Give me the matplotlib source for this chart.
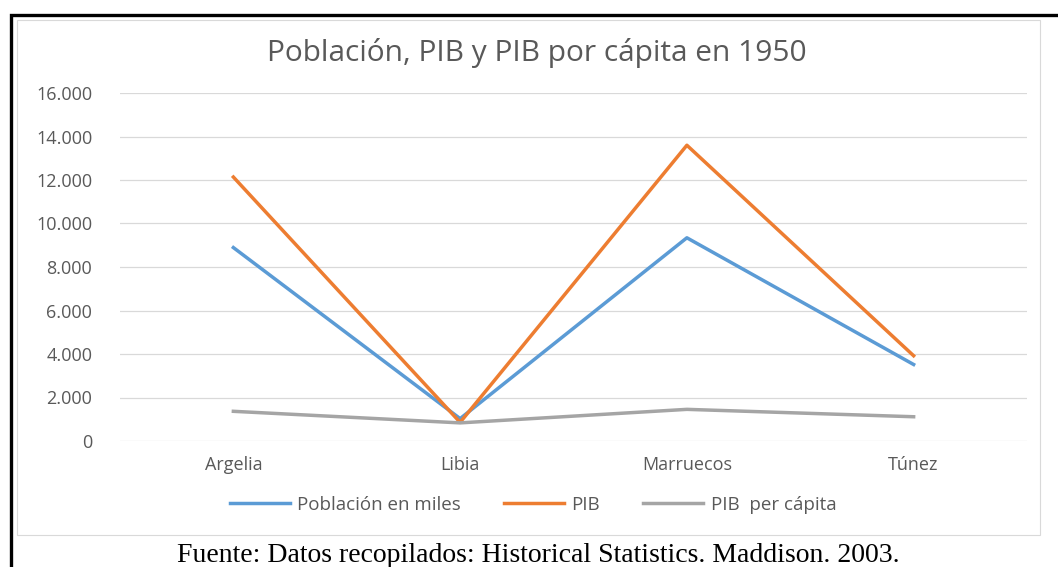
import matplotlib.pyplot as plt
from matplotlib.patches import Rectangle
from matplotlib.ticker import FuncFormatter

paises = ["Argelia", "Libia", "Marruecos", "Túnez"]
poblacion = [8893, 1029, 9343, 3517]
pib = [12136, 857, 13598, 3920]
pib_per_capita = [1365, 833, 1455, 1115]

fig = plt.figure(figsize=(10.58, 5.67), dpi=100)
W, H = 1058, 567

# black frame + faint inner border
fig.patches.append(Rectangle((11 / W, -0.05), 1.1, 1 - 14.5 / H + 0.05, transform=fig.transFigure,
                             fill=False, edgecolor="black", linewidth=2.4))
fig.patches.append(Rectangle((17 / W, 1 - 535 / H), (1040 - 17) / W, (535 - 20) / H,
                             transform=fig.transFigure, fill=False, edgecolor="#d9d9d9", linewidth=0.8))

ax = fig.add_axes([120 / W, 1 - 441 / H, (1027 - 120) / W, (441 - 93) / H])
x = range(len(paises))
ax.plot(x, poblacion, color="#5b9bd5", lw=2.5, label="Población en miles")
ax.plot(x, pib, color="#ed7d31", lw=2.5, label="PIB")
ax.plot(x, pib_per_capita, color="#a5a5a5", lw=2.5, label="PIB  per cápita")

ax.set_xlim(-0.5, 3.5)
ax.set_ylim(0, 16000)
ax.set_yticks(range(0, 16001, 2000))
ax.yaxis.set_major_formatter(FuncFormatter(lambda v, p: f"{int(v):,}".replace(",", ".")))
ax.set_xticks(list(x))
ax.set_xticklabels(paises)
ax.grid(axis="y", color="#d9d9d9", lw=0.9)
ax.set_axisbelow(True)
for s in ax.spines.values():
    s.set_visible(False)
ax.tick_params(length=0, colors="#595959", labelsize=13)
ax.tick_params(axis="y", pad=20)
ax.tick_params(axis="x", pad=11)
for t in ax.get_xticklabels() + ax.get_yticklabels():
    t.set_fontfamily("Open Sans")

fig.text(537 / W, 1 - 53 / H, "Población, PIB y PIB por cápita en 1950", ha="center", va="center",
         fontsize=21.5, color="#595959", family="Open Sans")

fig.legend(loc="center", bbox_to_anchor=(533 / W, 1 - 505 / H), ncol=3, frameon=False,
           prop={"family": "Open Sans", "size": 13.5}, labelcolor="#595959",
           handlelength=3.2, columnspacing=2.3, handletextpad=0.4)

fig.text(538 / W, 1 - 556 / H, "Fuente: Datos recopilados: Historical Statistics. Maddison. 2003.",
         ha="center", va="center", fontsize=20, color="black", family="Liberation Serif")

fig.savefig("out.png", dpi=100)
